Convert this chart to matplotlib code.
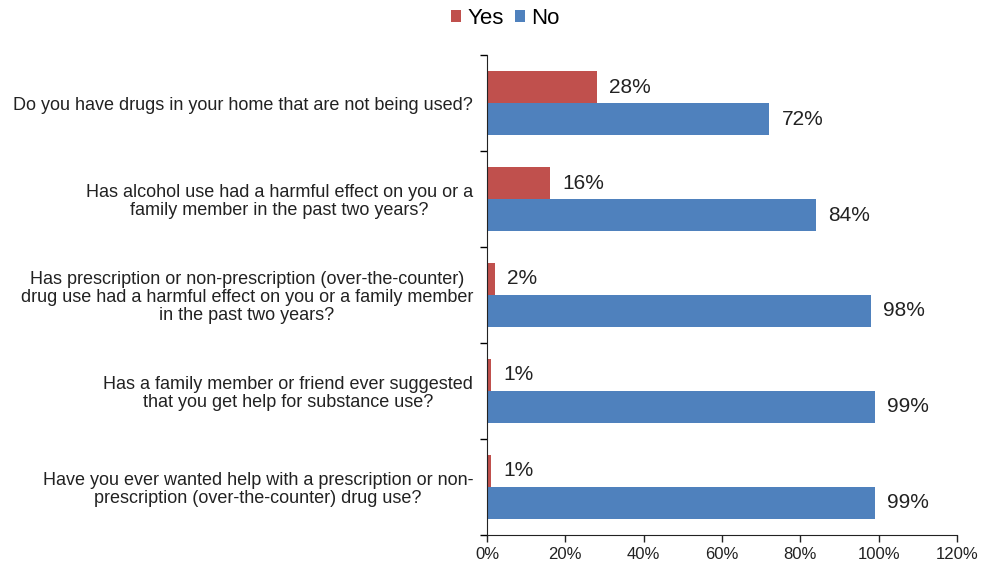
import matplotlib.pyplot as plt
import numpy as np
from matplotlib.ticker import FixedLocator, PercentFormatter

plt.rcParams['font.family'] = ['Liberation Sans', 'DejaVu Sans']

questions = [
    "Do you have drugs in your home that are not being used?",
    "Has alcohol use had a harmful effect on you or a\nfamily member in the past two years?",
    "Has prescription or non-prescription (over-the-counter)\ndrug use had a harmful effect on you or a family member\nin the past two years?",
    "Has a family member or friend ever suggested\nthat you get help for substance use?",
    "Have you ever wanted help with a prescription or non-\nprescription (over-the-counter) drug use?",
]
yes = [28, 16, 2, 1, 1]
no = [72, 84, 98, 99, 99]

red = '#C0504D'
blue = '#4F81BD'

fig = plt.figure(figsize=(9.87, 5.69), dpi=100)
ax = fig.add_axes([0.4934, 0.0598, 0.4762, 0.8435])

y = np.arange(len(questions))
h = 1 / 3
b1 = ax.barh(y - h / 2, yes, height=h, color=red, label='Yes')
b2 = ax.barh(y + h / 2, no, height=h, color=blue, label='No')

for bars in (b1, b2):
    for bar in bars:
        w = bar.get_width()
        ax.text(w + 3.2, bar.get_y() + bar.get_height() / 2, f'{w:.0f}%',
                va='center', ha='left', fontsize=15, color='#222222')

ax.set_xlim(0, 120)
ax.set_ylim(len(questions) - 0.5, -0.5)
ax.set_xticks(range(0, 121, 20))
ax.xaxis.set_major_formatter(PercentFormatter(decimals=0))
ax.tick_params(axis='x', labelsize=12, length=5, width=1, colors='#222222')

ax.set_yticks(y)
ax.set_yticklabels(questions, fontsize=13, multialignment='center', linespacing=1.1)
ax.tick_params(axis='y', which='major', length=0, pad=10, colors='#222222')
ax.yaxis.set_minor_locator(FixedLocator(np.arange(-0.5, len(questions), 1)))
ax.tick_params(axis='y', which='minor', length=5, width=1)

for s in ['top', 'right']:
    ax.spines[s].set_visible(False)
for s in ['left', 'bottom']:
    ax.spines[s].set_color('#222222')

fig.legend(handles=[b1, b2], labels=['Yes', 'No'], loc='center',
           bbox_to_anchor=(0.512, 0.968), ncol=2, frameon=False, fontsize=16,
           handlelength=0.45, handleheight=0.45, handletextpad=0.3, columnspacing=0.5)

fig.savefig('out.png', dpi=100)
